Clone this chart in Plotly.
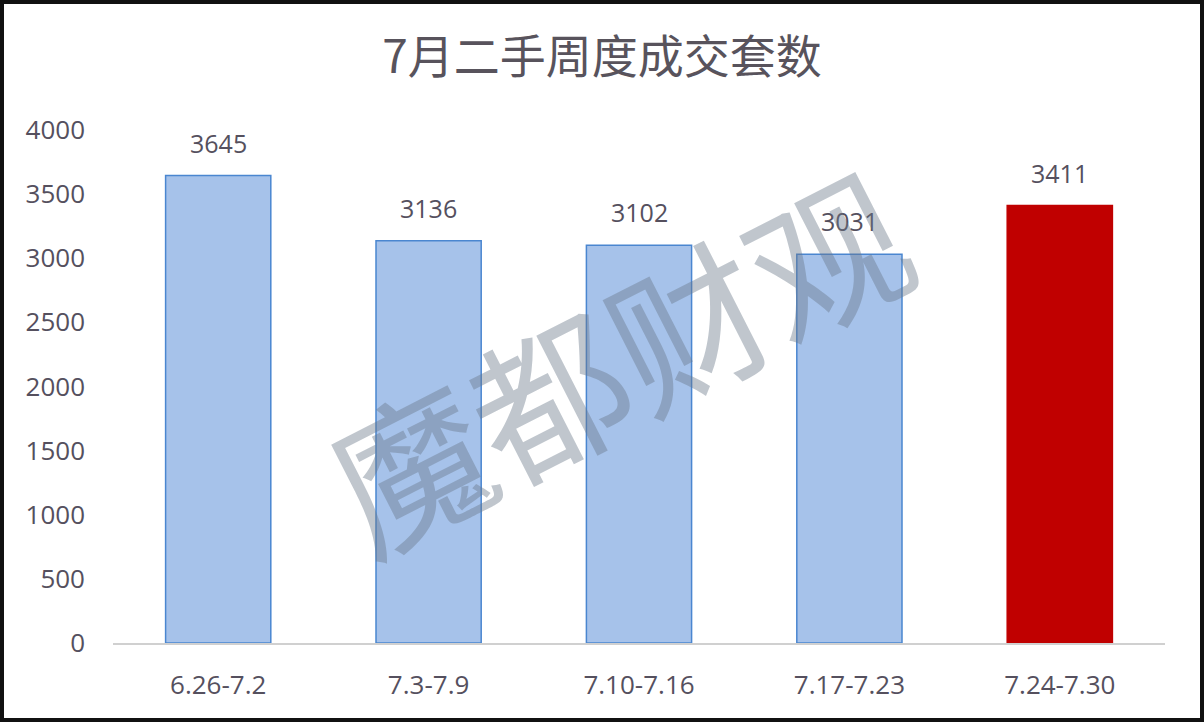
import plotly.graph_objects as go

categories = ["6.26-7.2", "7.3-7.9", "7.10-7.16", "7.17-7.23", "7.24-7.30"]
values = [3645, 3136, 3102, 3031, 3411]
fill_colors = ["#a6c2ea", "#a6c2ea", "#a6c2ea", "#a6c2ea", "#c00000"]
line_colors = ["#4a86d0", "#4a86d0", "#4a86d0", "#4a86d0", "#c00000"]
y_ticks = [0, 500, 1000, 1500, 2000, 2500, 3000, 3500, 4000]
title_text = "7月二手周度成交套数"
watermark = "魔都财观"

L, R, T, B = 113, 39, 130, 79
W, H = 1204, 722
pw, ph = W - L - R, H - T - B

fig = go.Figure()
fig.add_trace(go.Bar(
    x=categories, y=values,
    marker=dict(color=fill_colors, line=dict(color=line_colors, width=1.5)),
    showlegend=False, hoverinfo="x+y",
))

for c, v in zip(categories, values):
    fig.add_annotation(x=c, y=v, text=str(v), showarrow=False, yanchor="bottom",
                       yshift=14, font=dict(size=25, color="#55505e", family="Open Sans"))

fig.add_annotation(xref="paper", yref="paper", x=0.478, y=0.56, text=watermark,
                   showarrow=False, textangle=-27,
                   font=dict(size=156, color="rgba(105,118,135,0.42)", family="Noto Sans CJK SC"))

fig.add_shape(type="rect", xref="paper", yref="paper",
              x0=-L / pw, x1=(W - L) / pw, y0=-B / ph, y1=(H - B) / ph,
              line=dict(color="#111111", width=8), fillcolor="rgba(0,0,0,0)")

fig.update_layout(
    width=W, height=H,
    margin=dict(l=L, r=R, t=T, b=B),
    paper_bgcolor="white", plot_bgcolor="white",
    bargap=0.5,
    title=dict(text=title_text, x=0.5, xanchor="center", y=1 - 57 / H, yanchor="middle",
               font=dict(size=46, color="#58535c", family="Noto Sans CJK SC")),
    xaxis=dict(showgrid=False, showline=True, linecolor="#d0d0d0", linewidth=1.5,
               ticks="", ticklabelstandoff=18,
               tickfont=dict(size=26, color="#55505e", family="Open Sans")),
    yaxis=dict(range=[0, 4000], tickvals=y_ticks, showgrid=False, showline=False,
               zeroline=False, ticks="", ticklabelstandoff=27,
               tickfont=dict(size=26, color="#55505e", family="Open Sans")),
)

fig.write_html("out.html", config={"displayModeBar": False},
               post_script="document.body.style.margin='0px';")
